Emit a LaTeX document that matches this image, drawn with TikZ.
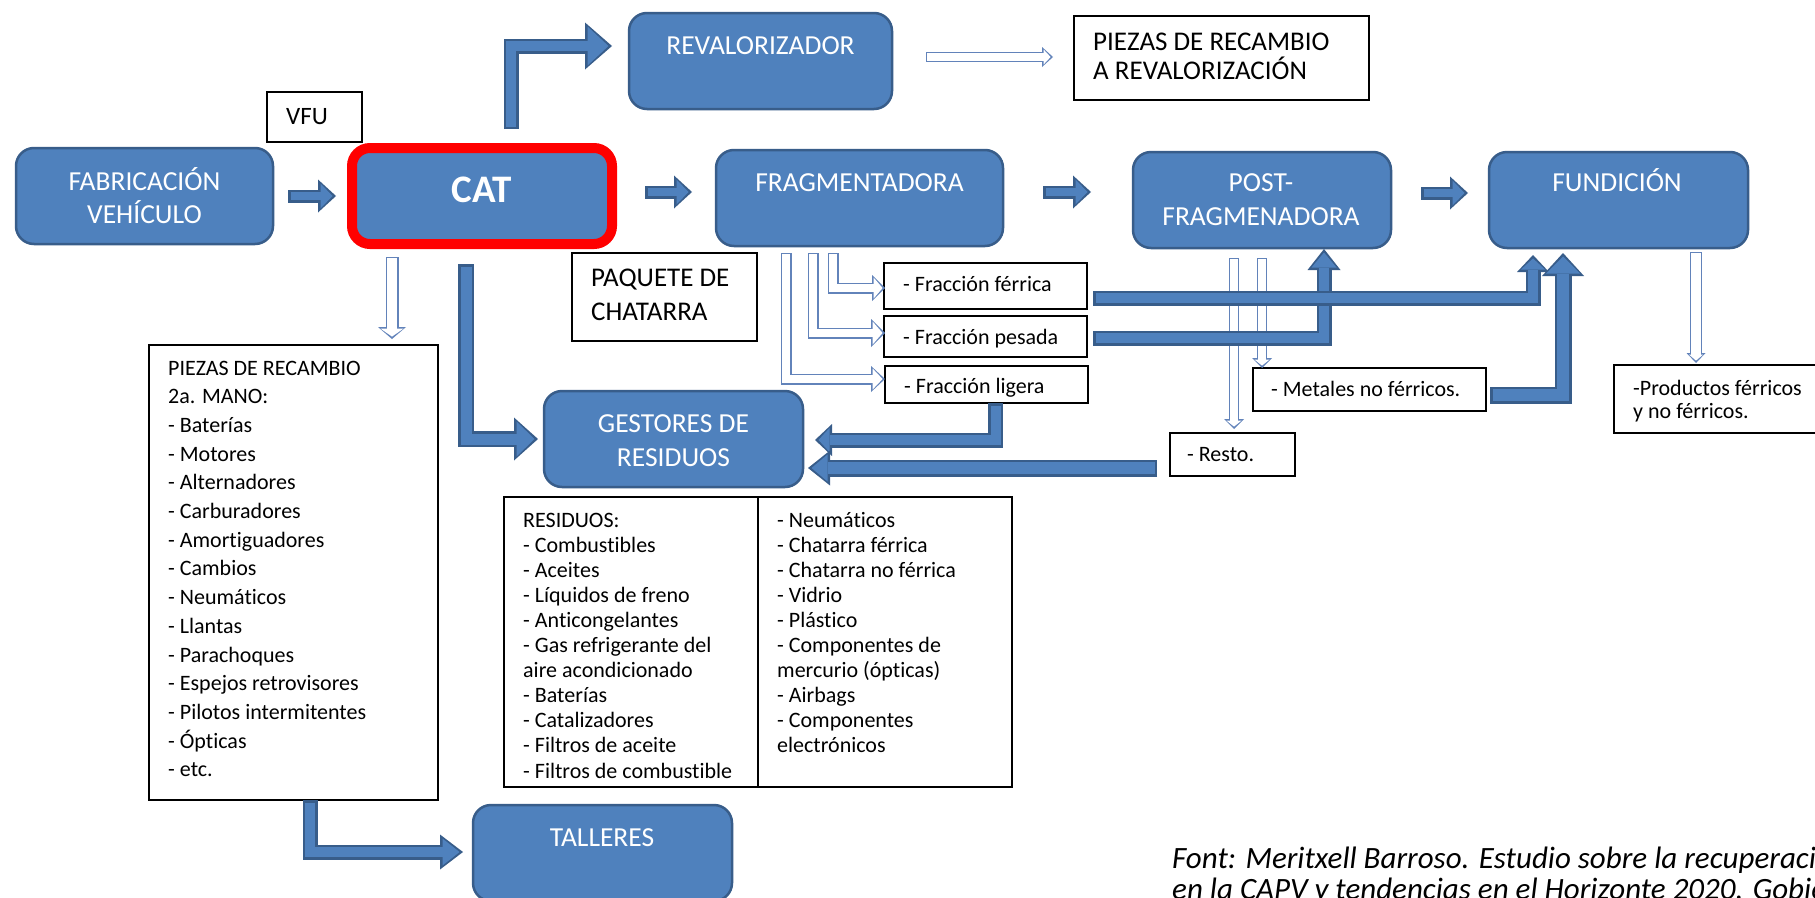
\documentclass[tikz,border=0pt]{standalone}
\usepackage{fontspec}
\setmainfont{Carlito}[Ligatures={NoCommon}]
\usetikzlibrary{arrows.meta,calc}
\definecolor{bfill}{RGB}{79,129,189}
\definecolor{bdark}{RGB}{56,93,138}
\definecolor{oline}{RGB}{98,131,186}
\definecolor{bred}{RGB}{255,0,0}
\tikzset{
  bbox/.style n args={2}{draw=bdark, fill=bfill, line width=2.5pt, rounded corners=18pt,
    minimum width=#1pt, minimum height=#2pt, inner sep=0pt, outer sep=0pt},
  wbox/.style n args={2}{draw=black, fill=white, line width=1.4pt,
    minimum width=#1pt, minimum height=#2pt, inner sep=0pt, outer sep=0pt},
  wt/.style={text=white, font=\fontsize{27.5}{27.5}\selectfont, anchor=base, inner sep=0pt},
  kt/.style={text=black, font=\fontsize{27}{27}\selectfont, anchor=base west, inner sep=0pt},
  st/.style={text=black, font=\fontsize{22}{22}\selectfont, anchor=base west, inner sep=0pt},
  capt/.style={anchor=base west, inner sep=0pt, font=\itshape\fontsize{31}{31}\selectfont},
}
\newcommand\blk[4]{%
  \pgfmathsetmacro\bkA{#1-5}\pgfmathsetmacro\bkB{#2-8}\pgfmathsetmacro\bkC{#3-6}%
  \draw[draw=bdark, line width=#1pt, line join=miter,
    -{Triangle[length=#3pt,width=#2pt,line width=0pt]}] #4;
  \draw[draw=bfill, line width=\bkA pt, line join=miter, shorten <=2.5pt, shorten >=3.5pt,
    -{Triangle[length=\bkC pt,width=\bkB pt,line width=0pt]}] #4;}
\newcommand\opn[4]{%
  \pgfmathsetmacro\opA{#1-2.8}\pgfmathsetmacro\opB{#2-5}\pgfmathsetmacro\opC{#3-4}%
  \draw[draw=oline, line width=#1pt, line join=miter,
    -{Triangle[length=#3pt,width=#2pt,line width=0pt]}] #4;
  \draw[draw=white, line width=\opA pt, line join=miter, shorten <=1.4pt, shorten >=2.4pt,
    -{Triangle[length=\opC pt,width=\opB pt,line width=0pt]}] #4;}
\begin{document}
\begin{tikzpicture}[x=1pt,y=-1pt]
\path[use as bounding box] (0,0) rectangle (1815,897);
\clip (0,0) rectangle (1815,897);
\fill[white] (0,0) rectangle (1815,897);

% blue boxes
\node[bbox={257}{96}] (fab) at (144.5,196) {};
\node[wt] (tfab1) at (144.5,190) {FABRICACIÓN};
\node[wt] (tfab2) at (144.5,223) {VEHÍCULO};
\node[fill=bfill, draw=bred, line width=10pt, rounded corners=18pt, minimum width=260pt,
  minimum height=96pt, inner sep=0pt, outer sep=0pt] (cat) at (482,196) {};
\node[wt, font=\bfseries\fontsize{39}{39}\selectfont] (tcat) at (482,202) {CAT};
\node[bbox={263}{96}] (reval) at (760.5,61) {};
\node[wt] (treval) at (760.5,54) {REVALORIZADOR};
\node[bbox={287}{96}] (frag) at (859.5,198) {};
\node[wt] (tfrag) at (859.5,191) {FRAGMENTADORA};
\node[bbox={258}{96}] (post) at (1262,200) {};
\node[wt] (tpost1) at (1261,191) {POST-};
\node[wt] (tpost2) at (1261,225) {FRAGMENADORA};
\node[bbox={259}{96}] (fund) at (1618.5,200) {};
\node[wt] (tfund) at (1617,191) {FUNDICIÓN};
\node[bbox={259}{96}] (gest) at (673.5,439) {};
\node[wt] (tgest1) at (673.5,432) {GESTORES DE};
\node[wt] (tgest2) at (673.5,466) {RESIDUOS};
\node[bbox={259}{96}] (tall) at (602.5,853) {};
\node[wt] (ttall) at (602,846) {TALLERES};

% white boxes
\node[wbox={95}{50}] (vfu) at (314.5,117) {};
\node[kt, font=\fontsize{25}{25}\selectfont] (tvfu) at (286,124) {VFU};
\node[wbox={295}{84}] (pzrev) at (1221.5,58) {};
\node[kt] (tpzrev1) at (1093,50) {PIEZAS DE RECAMBIO};
\node[kt] (tpzrev2) at (1093,79) {A REVALORIZACIÓN};
\node[wbox={185}{88}] (paq) at (664.5,297) {};
\node[kt] (tpaq1) at (591,286) {PAQUETE DE};
\node[kt] (tpaq2) at (591,320) {CHATARRA};
\node[wbox={203}{46}] (ferr) at (985.5,286) {};
\node[st] (tferr) at (903,291) {- Fracción férrica};
\node[wbox={203}{41}] (pes) at (985.5,336.5) {};
\node[st] (tpes) at (903,344) {- Fracción pesada};
\node[wbox={203}{37}] (lig) at (986.5,384.5) {};
\node[st] (tlig) at (904,393) {- Fracción ligera};
\node[wbox={233}{43}] (met) at (1369.5,389.5) {};
\node[st] (tmet) at (1271,396) {- Metales no férricos.};
\node[wbox={125}{43}] (resto) at (1232.5,454.5) {};
\node[st] (tresto) at (1187,461) {- Resto.};
\node[wbox={226}{68}] (prod) at (1727,399) {};
\node[st] (tprod1) at (1633,395) {-Productos férricos};
\node[st] (tprod2) at (1633,418) {y no férricos.};
\node[wbox={289}{455}] (pzlist) at (293.5,572.5) {};
\foreach \itm [count=\i from 0] in {PIEZAS DE RECAMBIO, 2a. MANO:, - Baterías, - Motores,
  - Alternadores, - Carburadores, - Amortiguadores, - Cambios, - Neumáticos, - Llantas,
  - Parachoques, - Espejos retrovisores, - Pilotos intermitentes, - Ópticas, - etc.}
  \node[st] (pl\i) at (168,{375+28.7*\i}) {\itm};
\node[wbox={508}{290}] (resid) at (758,642) {};
\draw[black, line width=1.4pt] (resid.north) -- (resid.south);
\foreach \itm [count=\i from 0] in {RESIDUOS:, - Combustibles, - Aceites, - Líquidos de freno,
  - Anticongelantes, - Gas refrigerante del, aire acondicionado, - Baterías, - Catalizadores,
  - Filtros de aceite, - Filtros de combustible}
  \node[st] (rl\i) at (523,{527+25.1*\i}) {\itm};
\foreach \itm [count=\i from 0] in {- Neumáticos, - Chatarra férrica, - Chatarra no férrica,
  - Vidrio, - Plástico, - Componentes de, mercurio (ópticas), - Airbags, - Componentes,
  electrónicos}
  \node[st] (rr\i) at (777,{527+25.1*\i}) {\itm};

% caption (cut at the right and bottom edges, as in the reference)
\node[capt] (cap1) at (1172,868) {Font: Meritxell Barroso. Estudio sobre la recuperación};
\node[capt] (cap2) at (1172,899) {en la CAPV y tendencias en el Horizonte 2020. Gobierno};

% coordinates
\coordinate (a1s) at ($(fab.east)+(15,0)$);
\coordinate (a1e) at ($(cat.west)+(-16,0)$);
\coordinate (a2s) at ($(cat.east)+(33,-4)$);
\coordinate (a2e) at ($(frag.west)+(-24,-6)$);
\coordinate (a3s) at ($(frag.east)+(40,-6)$);
\coordinate (a3e) at ($(post.west)+(-42,-8)$);
\coordinate (a4s) at ($(post.east)+(30,-7)$);
\coordinate (a4e) at ($(fund.west)+(-21,-7)$);
\coordinate (a5s) at ($(cat.north)+(29,-19)$);
\coordinate (a5e) at ($(reval.west)+(-17,-15)$);
\coordinate (a6s) at ($(cat.south)+(-16,20)$);
\coordinate (a6e) at ($(gest.west)+(-6,0)$);
\coordinate (a7s) at ($(lig.south)+(9,0)$);
\coordinate (a7e) at ($(gest.east)+(12,1)$);
\coordinate (a8s) at ($(resto.west)+(-13,13.5)$);
\coordinate (a8e) at ($(gest.east)+(5,29)$);
\coordinate (a9s) at ($(ferr.east)+(6,12)$);
\coordinate (a9e) at ($(fund.south)+(-85.5,7)$);
\coordinate (a10s) at ($(pes.east)+(6,1.5)$);
\coordinate (a10e) at ($(post.south)+(62,1)$);
\coordinate (a11s) at ($(met.east)+(4,5.5)$);
\coordinate (a11e) at ($(fund.south)+(-55.5,5)$);
\coordinate (a12s) at ($(pzlist.south)+(16.5,0)$);
\coordinate (a12e) at ($(tall.west)+(-10,-1)$);
\coordinate (o1s) at ($(reval.east)+(34,-4)$);
\coordinate (o1e) at ($(pzrev.west)+(-21,0)$);
\coordinate (o2s) at ($(cat.south)+(-90,13)$);
\coordinate (o2e) at ($(pzlist.north)+(0,-6)$);
\coordinate (o3s) at ($(frag.south)+(-26.5,7)$);
\coordinate (o3e) at ($(ferr.west)+(1,2)$);
\coordinate (o4s) at ($(frag.south)+(-46.5,7)$);
\coordinate (o4e) at ($(pes.west)+(1,-3.5)$);
\coordinate (o5s) at ($(frag.south)+(-73.5,7)$);
\coordinate (o5e) at ($(lig.west)+(0,-5.5)$);
\coordinate (o6s) at ($(post.south)+(-28,10)$);
\coordinate (o6e) at ($(resto.north)+(0,-4)$);
\coordinate (o7s) at ($(post.south)+(0,10)$);
\coordinate (o7e) at (met.north);
\coordinate (o8s) at ($(fund.south)+(77.5,4)$);
\coordinate (o8e) at ($(prod.north)+(0,-2)$);

% open arrows
\opn{10}{20}{11}{(o1s) -- (o1s -| o1e)}
\opn{13}{28}{12}{(o2s) -- (o2s |- o2e)}
\opn{11}{26}{13}{(o3s) -- (o3s |- o3e) -- (o3e)}
\opn{11}{28}{14}{(o4s) -- (o4s |- o4e) -- (o4e)}
\opn{11}{26}{14}{(o5s) -- (o5s |- o5e) -- (o5e)}
\opn{10}{20}{10}{(o6s) -- (o6s |- o6e)}
\opn{10}{20}{10}{(o7s) -- (o7s |- o7e)}
\opn{12}{19}{10}{(o8s) -- (o8s |- o8e)}

% blue block arrows
\blk{13}{33}{18}{(a1s) -- (a1e)}
\blk{13}{33}{18}{(a2s) -- (a2s -| a2e)}
\blk{13}{33}{18}{(a3s) -- (a3s -| a3e)}
\blk{13}{33}{18}{(a4s) -- (a4s -| a4e)}
\blk{15}{47}{27}{(a5s) -- (a5s |- a5e) -- (a5e)}
\blk{16}{43}{24}{(a6s) -- (a6s |- a6e) -- (a6e)}
\blk{15}{32}{17}{(a7s) -- (a7s |- a7e) -- (a7e)}
\blk{17}{35}{22}{(a8s) -- (a8s -| a8e)}
\blk{15}{33}{21}{(a10s) -- (a10e |- a10s) -- (a10e)}
\blk{15}{32}{17}{(a9s) -- (a9e |- a9s) -- (a9e)}
\blk{17}{42}{23}{(a11s) -- (a11e |- a11s) -- (a11e)}
\blk{15}{35}{23}{(a12s) -- (a12s |- a12e) -- (a12e)}
\end{tikzpicture}
\end{document}
